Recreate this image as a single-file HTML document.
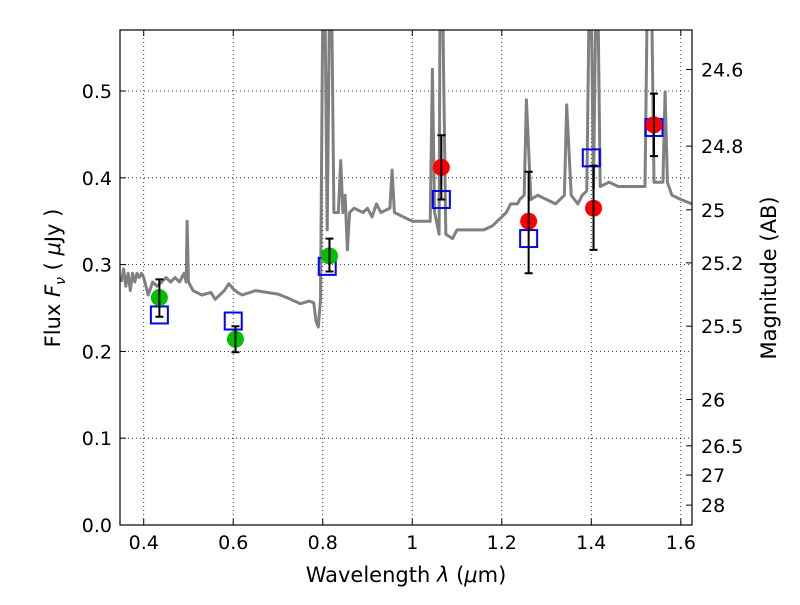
<!DOCTYPE html>
<html><head><meta charset="utf-8"><style>
body{margin:0;background:#fff}
svg text{font-family:"DejaVu Sans","Liberation Sans",sans-serif;fill:#000}
</style></head><body>
<svg id="chart" width="800" height="600"></svg>
<script>
const specLam=[0.35,0.355,0.36,0.365,0.37,0.375,0.38,0.385,0.39,0.395,0.40,0.405,0.41,0.42,0.43,0.44,0.45,0.46,0.47,0.48,0.49,0.495,0.497,0.50,0.51,0.53,0.55,0.56,0.58,0.59,0.60,0.61,0.62,0.65,0.70,0.72,0.75,0.77,0.78,0.785,0.79,0.795,0.80,0.805,0.81,0.815,0.82,0.825,0.835,0.84,0.845,0.85,0.855,0.86,0.87,0.89,0.90,0.91,0.92,0.93,0.95,0.955,0.96,0.98,1.0,1.02,1.04,1.045,1.05,1.06,1.062,1.068,1.075,1.09,1.10,1.12,1.14,1.16,1.18,1.19,1.20,1.21,1.22,1.235,1.24,1.25,1.255,1.265,1.28,1.30,1.32,1.34,1.345,1.355,1.37,1.38,1.39,1.395,1.40,1.405,1.41,1.415,1.42,1.44,1.46,1.48,1.50,1.52,1.525,1.535,1.54,1.55,1.56,1.565,1.57,1.58,1.60,1.625];
const specFlux=[0.28,0.295,0.275,0.29,0.27,0.29,0.28,0.29,0.285,0.29,0.285,0.275,0.265,0.28,0.275,0.28,0.285,0.28,0.285,0.28,0.29,0.28,0.35,0.28,0.27,0.265,0.268,0.26,0.27,0.278,0.272,0.268,0.265,0.27,0.266,0.262,0.255,0.258,0.256,0.235,0.228,0.26,0.6,0.6,0.34,0.6,0.6,0.36,0.36,0.42,0.36,0.38,0.317,0.36,0.365,0.36,0.365,0.355,0.37,0.36,0.365,0.409,0.36,0.355,0.35,0.35,0.35,0.525,0.36,0.335,0.6,0.6,0.335,0.33,0.34,0.34,0.34,0.34,0.345,0.35,0.355,0.36,0.37,0.37,0.375,0.38,0.49,0.375,0.38,0.375,0.37,0.38,0.484,0.38,0.37,0.38,0.385,0.6,0.6,0.388,0.6,0.6,0.39,0.395,0.39,0.39,0.39,0.39,0.6,0.6,0.395,0.395,0.395,0.499,0.395,0.38,0.375,0.37];
const obsLam=[0.435,0.605,0.815,1.065,1.26,1.405,1.54];
const obsFlux=[0.262,0.214,0.31,0.412,0.35,0.365,0.461];
const obsLo=[0.24,0.199,0.292,0.375,0.29,0.317,0.425];
const obsHi=[0.283,0.229,0.33,0.449,0.407,0.414,0.497];
const obsColor=['#00c000','#00c000','#00c000','red','red','red','red'];
const modLam=[0.435,0.6,0.81,1.065,1.26,1.40,1.54];
const modFlux=[0.242,0.235,0.298,0.375,0.33,0.423,0.458];
const xTicks=[0.4,0.6,0.8,1.0,1.2,1.4,1.6];
const xTickLabels=['0.4','0.6','0.8','1','1.2','1.4','1.6'];
const yTicks=[0,0.1,0.2,0.3,0.4,0.5];
const yTickLabels=['0.0','0.1','0.2','0.3','0.4','0.5'];
const magTicks=[24.6,24.8,25,25.2,25.5,26,26.5,27,28];
const magTickLabels=['24.6','24.8','25','25.2','25.5','26','26.5','27','28'];

const L=120,R=692,T=30,B=525,x0=0.347,x1=1.625,y0=0,y1=0.5703;
const sx=v=>L+(v-x0)/(x1-x0)*(R-L);
const sy=v=>B-(v-y0)/(y1-y0)*(B-T);
const NS='http://www.w3.org/2000/svg';
const svg=document.getElementById('chart');
function mk(tag,attrs,parent){const e=document.createElementNS(NS,tag);for(const k in attrs)e.setAttribute(k,attrs[k]);(parent||svg).appendChild(e);return e;}
const defs=mk('defs',{});const cp=mk('clipPath',{id:'clip'},defs);mk('rect',{x:L,y:T,width:R-L,height:B-T},cp);

const grid=mk('g',{});


xTicks.forEach((t,i)=>{const x=sx(t);
 mk('line',{x1:x,x2:x,y1:T,y2:B,stroke:'#000','stroke-dasharray':'1,3','stroke-width':0.8},grid);
 mk('line',{x1:x,x2:x,y1:B,y2:B-6,stroke:'#000'});mk('line',{x1:x,x2:x,y1:T,y2:T+6,stroke:'#000'});
 const tx=mk('text',{x:x,y:B+24,'text-anchor':'middle','font-size':19});tx.textContent=xTickLabels[i];
 
 
});
yTicks.forEach((t,i)=>{const y=sy(t);
 if(t>0)mk('line',{x1:L,x2:R,y1:y,y2:y,stroke:'#000','stroke-dasharray':'1,3','stroke-width':0.8},grid);
 mk('line',{x1:L,x2:L+6,y1:y,y2:y,stroke:'#000'});
 const tx=mk('text',{x:L-8,y:y+7,'text-anchor':'end','font-size':19});tx.textContent=yTickLabels[i];
 
 
});
magTicks.forEach((m,i)=>{const y=sy(Math.pow(10,(23.9-m)/2.5));
 mk('line',{x1:R,x2:R-6,y1:y,y2:y,stroke:'#000'});
 const tx=mk('text',{x:R+9,y:y+7,'font-size':19});tx.textContent=magTickLabels[i];
 
 
});

const g=mk('g',{'clip-path':'url(#clip)'});
const d=specLam.map((l,i)=>(i?'L':'M')+sx(l).toFixed(1)+','+sy(specFlux[i]).toFixed(1)).join('');
const sp=mk('path',{d:d,fill:'none',stroke:'#808080','stroke-width':3,'stroke-linejoin':'round'},g);


modLam.forEach((l,i)=>{const r=mk('rect',{x:sx(l)-8.5,y:sy(modFlux[i])-8.5,width:17,height:17,fill:'none',stroke:'#0000ff','stroke-width':2},g);
 
 
});
obsLam.forEach((l,i)=>{const x=sx(l);
 const c=mk('circle',{cx:x,cy:sy(obsFlux[i]),r:8.5,fill:obsColor[i]},g);
 
 
 const e=mk('path',{d:`M${x},${sy(obsLo[i])}V${sy(obsHi[i])}M${x-4},${sy(obsLo[i])}h8M${x-4},${sy(obsHi[i])}h8`,stroke:'#000','stroke-width':2,fill:'none'},g);
 
 
});
const fr=mk('rect',{x:L,y:T,width:R-L,height:B-T,fill:'none',stroke:'#000','stroke-width':1.2});



const xl=mk('text',{x:406,y:582,'text-anchor':'middle','font-size':21});
xl.innerHTML='Wavelength  <tspan font-style="italic">λ</tspan> (<tspan font-style="italic">μ</tspan>m)';


const yl=mk('text',{x:0,y:0,'text-anchor':'middle','font-size':21,transform:'translate(60,278) rotate(-90)'});
yl.innerHTML='Flux  <tspan font-style="italic">F</tspan><tspan font-style="italic" font-size="14" dy="5">ν</tspan><tspan dy="-5">  ( </tspan><tspan font-style="italic">μ</tspan>Jy )';


const ml=mk('text',{x:0,y:0,'text-anchor':'middle','font-size':21,transform:'translate(776,278) rotate(-90)'});
ml.textContent='Magnitude (AB)';


</script>
</body></html>
